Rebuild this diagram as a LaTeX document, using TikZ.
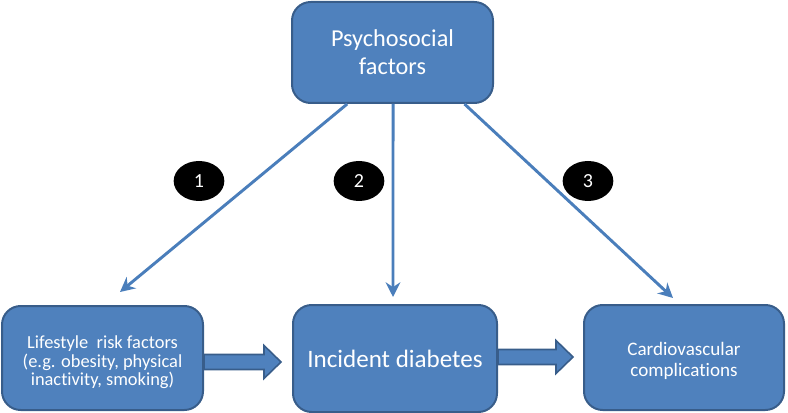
\documentclass[tikz,border=0pt]{standalone}
\usepackage{fontspec}
\setmainfont[Ligatures=NoCommon]{Carlito}
\usetikzlibrary{arrows.meta,shapes.geometric}
\definecolor{boxfill}{HTML}{4F81BD}
\definecolor{boxline}{HTML}{385D8A}
\definecolor{arrline}{HTML}{4A7EBB}
\newcommand{\lowtext}[2]{\raisebox{-#1}[\height][\depth]{\begin{tabular}{@{}c@{}}#2\end{tabular}}}
\tikzset{
  box/.style={draw=boxline,fill=boxfill,line width=1.5pt,rounded corners=14pt,
    text=white,align=center,inner sep=2pt},
  num/.style={ellipse,fill=black,text=white,minimum width=38pt,minimum height=30pt,
    inner sep=0pt,font=\fontsize{15}{16}\selectfont},
  thinarr/.style={draw=arrline,line width=2.2pt,-{Stealth[length=11pt,width=11pt]}},
  blockarr/.style={draw=boxline,fill=boxfill,line width=1.2pt,line join=miter}
}
\begin{document}
\begin{tikzpicture}[x=0.75pt,y=-0.75pt]
    \useasboundingbox (0,0) rectangle (788,413);
    % boxes
    \node[box,minimum width=150.75pt,minimum height=75.75pt,
      font=\fontsize{18.2}{21}\selectfont] (psy) at (392.5,52.5) {Psychosocial\\factors};
    \node[box,minimum width=150.75pt,minimum height=78pt,
      font=\fontsize{13.8}{13.2}\selectfont] (life) at (102.5,358)
      {\lowtext{4pt}{Lifestyle\ \ risk factors\\(e.g. obesity, physical\\inactivity, smoking)}};
    \node[box,minimum width=153pt,minimum height=80.25pt,
      font=\fontsize{18.8}{21}\selectfont] (inc) at (395,358.5) {Incident diabetes};
    \node[box,minimum width=150pt,minimum height=78.75pt,
      font=\fontsize{14.3}{15.5}\selectfont] (cvd) at (684,357.5)
      {\lowtext{3.5pt}{Cardiovascular\\complications}};
    % numbered paths
    \node[num] (n1) at (199,181) {1};
    \node[num] (n2) at (359,181) {2};
    \node[num] (n3) at (588,181) {3};
    \coordinate (t1) at (120,292);
    \coordinate (t2) at (393,297);
    \coordinate (t3) at (673,298);
    \draw[thinarr] ([xshift=-34pt]psy.south) -- (t1);
    \draw[thinarr] ([xshift=0.4pt]psy.south) -- (t2);
    \draw[thinarr] ([xshift=54pt]psy.south) -- (t3);
    % block arrows
    \draw[blockarr] (life.east) ++(0,-3.5) -- ++(60,0) -- ++(0,-9) -- ++(17,16.5)
      -- ++(-17,16.5) -- ++(0,-9) -- ++(-60,0) -- cycle;
    \draw[blockarr] (inc.east) ++(0,-9) -- ++(58,0) -- ++(0,-9) -- ++(17,16.5)
      -- ++(-17,16.5) -- ++(0,-9) -- ++(-58,0) -- cycle;
\end{tikzpicture}
\end{document}
